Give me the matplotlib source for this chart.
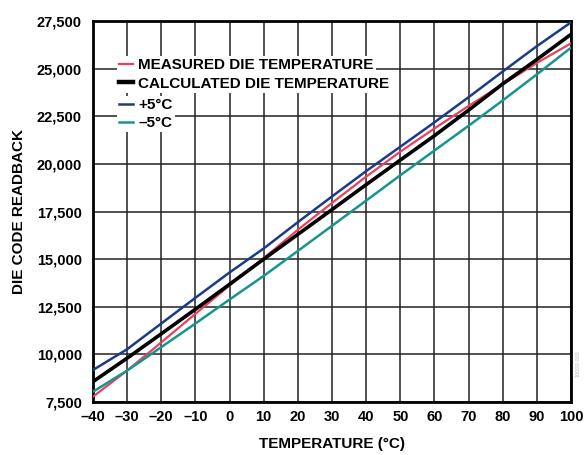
import matplotlib.pyplot as plt
from matplotlib.lines import Line2D
import matplotlib.ticker as mticker

plt.rcParams['font.family'] = ['Liberation Sans', 'DejaVu Sans']
plt.rcParams['font.weight'] = 'bold'

# die code readback vs temperature
temp = [-40, -30, -20, -10, 0, 10, 20, 30, 40, 50, 60, 70, 80, 90, 100]
measured = [7780, 9150, 10630, 12130, 13620, 15050, 16540, 17950, 19330, 20640, 21860, 23040, 24180, 25300, 26330]
calculated = [8570, 9800, 11080, 12370, 13680, 15000, 16300, 17600, 18910, 20200, 21480, 22820, 24200, 25480, 26800]
plus5 = [9180, 10270, 11620, 12970, 14300, 15560, 16940, 18290, 19620, 20900, 22180, 23500, 24850, 26180, 27430]
minus5 = [8040, 9150, 10380, 11620, 12880, 14120, 15430, 16750, 18070, 19400, 20700, 22000, 23330, 24700, 26100]

series = [
    ('MEASURED DIE TEMPERATURE', measured, '#e8415c', 1.6),
    ('CALCULATED DIE TEMPERATURE', calculated, '#000000', 2.6),
    ('+5°C', plus5, '#1b3a8a', 1.8),
    ('\u20135°C', minus5, '#16958f', 1.8),
]

xticks = list(range(-40, 101, 10))
yticks = list(range(7500, 27501, 2500))

fig = plt.figure(figsize=(5.86, 4.55), dpi=100)
ax = fig.add_axes([0.1587, 0.1165, 0.8157, 0.8373])

for name, vals, col, lw in series:
    ax.plot(temp, vals, color=col, lw=lw, zorder=3)

ax.set_xlim(-40, 100)
ax.set_ylim(7500, 27500)
ax.set_xticks(xticks)
ax.set_yticks(yticks)
ax.set_xticklabels([str(t).replace('-', '\u2013') for t in xticks])
ax.yaxis.set_major_formatter(mticker.FuncFormatter(lambda v, p: f'{int(v):,}'))
ax.tick_params(length=0, labelsize=10.5)
ax.tick_params(axis='y', pad=8)
ax.tick_params(axis='x', pad=6)
ax.grid(True, color='#222222', lw=1.1, zorder=1)
for s in ax.spines.values():
    s.set_linewidth(2)

ax.set_xlabel('TEMPERATURE (°C)', fontsize=11, fontweight='bold', labelpad=9)
ax.set_ylabel('DIE CODE READBACK', fontsize=11, fontweight='bold', labelpad=8)

# one small legend per row so the white backing hugs each entry
rows_y = [0.8845, 0.836, 0.7795, 0.732]
for (name, vals, col, lw), ry in zip(series, rows_y):
    h = Line2D([], [], color=col, lw=lw + 0.6 if lw > 2 else lw)
    leg = ax.legend([h], [name], loc='center left', bbox_to_anchor=(0.05, ry),
                    borderaxespad=0, borderpad=0.15, handlelength=0.9,
                    handletextpad=0.35, frameon=True, fancybox=False,
                    framealpha=1, edgecolor='none', facecolor='white',
                    prop={'size': 11, 'weight': 'bold'})
    leg.set_zorder(5)
    ax.add_artist(leg)

fig.text(0.986, 0.2, '10000-005', rotation=90, fontsize=4, color='#bbbbbb',
         ha='center', va='center', fontweight='normal')

fig.savefig('out.png', dpi=100)
